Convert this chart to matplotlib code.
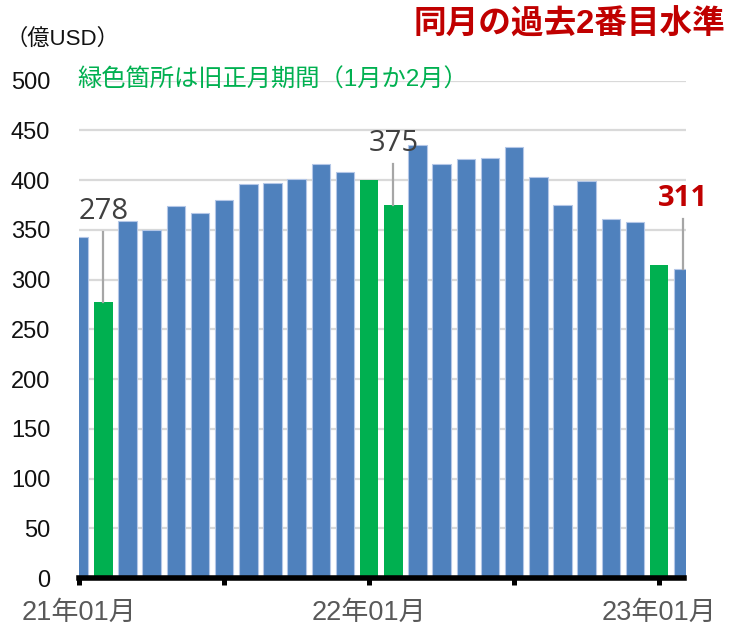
import matplotlib
matplotlib.use('Agg')
import matplotlib.pyplot as plt
import numpy as np

# monthly values (億USD), 21/01 .. 23/02
months = ['21年01月', '21年02月', '21年03月', '21年04月', '21年05月', '21年06月',
          '21年07月', '21年08月', '21年09月', '21年10月', '21年11月', '21年12月',
          '22年01月', '22年02月', '22年03月', '22年04月', '22年05月', '22年06月',
          '22年07月', '22年08月', '22年09月', '22年10月', '22年11月', '22年12月',
          '23年01月', '23年02月']
values = [343, 278, 359, 350, 374, 367, 380, 396, 397, 401, 416, 408,
          400, 375, 435, 416, 421, 422, 433, 403, 375, 399, 361, 358,
          315, 311]
# lunar new year months (drawn green)
lunar = ['21年02月', '22年01月', '22年02月', '23年01月']
labeled_months = ['21年01月', '22年01月', '23年01月']
callout_months = ['21年02月', '22年02月', '23年02月']

BLUE = '#4F81BD'
GREEN = '#00B050'
RED = '#C00000'
CJK = ['Liberation Sans', 'Noto Sans CJK JP']

plt.rcParams['font.family'] = CJK

fig = plt.figure(figsize=(7.33, 6.28), dpi=100)
ax = fig.add_axes([0.1074, 0.0796, 0.9359 - 0.1074, 0.8715 - 0.0796])

x = np.arange(len(months))
colors = [GREEN if m in lunar else BLUE for m in months]
edges = ['none' if m in lunar else '#B4C7E7' for m in months]
ax.bar(x, values, width=0.765, color=colors, edgecolor=edges, linewidth=0.8, zorder=2)

ax.set_xlim(-0.02, 25.11)
ax.set_ylim(0, 500)
ax.set_yticks(np.arange(0, 501, 50))
ax.yaxis.grid(True, color='#D9D9D9', linewidth=1.6)
ax.set_axisbelow(True)

for s in ['top', 'right', 'left']:
    ax.spines[s].set_visible(False)
ax.spines['bottom'].set_linewidth(4)
ax.spines['bottom'].set_color('black')
ax.spines['bottom'].set_zorder(3)
ax.spines['bottom'].set_bounds(-0.02, 25.03)

ax.set_xticks(x[::6])
ax.set_xticklabels([m if m in labeled_months else '' for m in months[::6]],
                   fontsize=19.5, color='#595959')
ax.tick_params(axis='x', direction='out', length=5, width=3.6, color='black', pad=11)
ax.tick_params(axis='y', length=0, pad=20.5, labelsize=17, labelcolor='#111111')
for lab in ax.get_yticklabels():
    lab.set_fontfamily('Liberation Sans')

# callouts: (line top, label baseline) in data units
callout_pos = {'21年02月': (348, 361), '22年02月': (416, 429), '23年02月': (361, 374)}
for m in callout_months:
    i = months.index(m)
    top, base = callout_pos[m]
    ax.plot([i, i], [values[i], top], color='#A6A6A6', linewidth=1.6, zorder=3, clip_on=False)
    if m == callout_months[-1]:
        ax.text(i, base, str(values[i]), ha='center', va='baseline', fontsize=21,
                fontweight='bold', color=RED, family='Open Sans')
    else:
        ax.text(i, base, str(values[i]), ha='center', va='baseline', fontsize=21,
                color='#404040', family='Open Sans')

fig.text(0.007, 0.938, '（億USD）', fontsize=16, color='#111111', va='center', ha='left')
fig.text(0.106, 0.872, '緑色箇所は旧正月期間（1月か2月）', fontsize=17.5, color=GREEN,
         va='center', ha='left')
fig.text(0.990, 0.960, '同月の過去2番目水準', fontsize=23.5, color=RED, fontweight='bold',
         va='center', ha='right')

fig.savefig('out.png', dpi=100)
